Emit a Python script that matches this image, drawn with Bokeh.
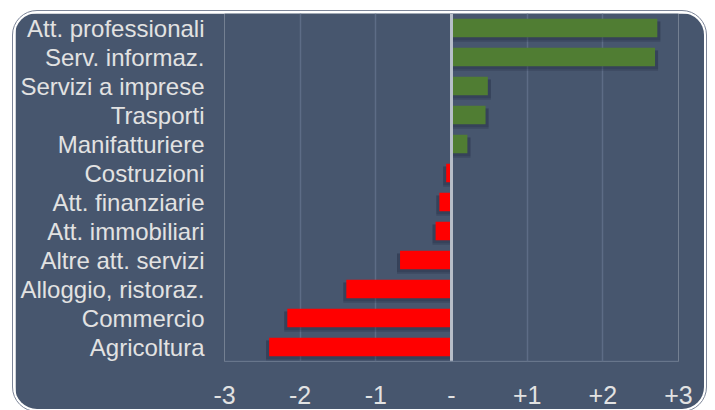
from bokeh.plotting import figure
from bokeh.models import (FactorRange, Range1d, FixedTicker, Span, ColumnDataSource,
                          GlobalInlineStyleSheet)
from bokeh.transform import dodge
from bokeh.embed import file_html
from bokeh.resources import INLINE

categories = ["Att. professionali", "Serv. informaz.", "Servizi a imprese", "Trasporti",
              "Manifatturiere", "Costruzioni", "Att. finanziarie", "Att. immobiliari",
              "Altre att. servizi", "Alloggio, ristoraz.", "Commercio", "Agricoltura"]
values = [2.72, 2.69, 0.48, 0.45, 0.21, -0.07, -0.16, -0.21, -0.68, -1.39, -2.17, -2.41]
tick_values = [-3, -2, -1, 0, 1, 2, 3]
tick_labels = ["-3", "-2", "-1", "-", "+1", "+2", "+3"]

BG = "#47566e"
GREEN = "#507d33"
RED = "#ff0000"
TXT = "#e2e2e2"

colors = [GREEN if v >= 0 else RED for v in values]
sh = 0.04
shadow_left = [min(v, 0) - sh if v < 0 else 0 for v in values]
shadow_right = [v + sh if v > 0 else 0 for v in values]

src = ColumnDataSource(dict(cat=categories, val=values, color=colors,
                            sl=shadow_left, sr=shadow_right))

p = figure(width=693, height=400,
           y_range=FactorRange(*list(reversed(categories))),
           x_range=Range1d(-3, 3),
           output_backend="svg", toolbar_location=None,
           min_border_left=209, min_border_right=30,
           min_border_top=0, min_border_bottom=52)

p.background_fill_color = BG
p.border_fill_color = BG
p.outline_line_color = None

p.styles = {"margin-left": "13px", "margin-top": "11px",
            "border": "2px solid white", "border-radius": "24px",
            "overflow": "hidden", "outline": "1px solid #7c8598"}
p.stylesheets = [GlobalInlineStyleSheet(css="html, body { overflow: hidden; }")]

# shadows
p.hbar(y=dodge("cat", -0.13, range=p.y_range), left="sl", right="sr", height=0.7,
       source=src, fill_color="#10182a", fill_alpha=0.14, line_color=None)
p.hbar(y=dodge("cat", -0.10, range=p.y_range), left="sl", right="sr", height=0.64,
       source=src, fill_color="#10182a", fill_alpha=0.18, line_color=None)
# bars
p.hbar(y="cat", left=0, right="val", height=0.64, source=src,
       fill_color="color", line_color=None)

zero = Span(location=0, dimension="height", line_color="#b7bec9", line_width=3)
p.add_layout(zero)
bottom = Span(location=0, dimension="width", line_color="#5d6c86", line_width=1.5)
p.add_layout(bottom)

p.xgrid.ticker = FixedTicker(ticks=tick_values)
p.xgrid.grid_line_color = "#5d6c86"
p.xgrid.grid_line_width = 1.5
p.ygrid.grid_line_color = None

xa = p.xaxis[0]
xa.ticker = FixedTicker(ticks=tick_values)
xa.major_label_overrides = {t: l for t, l in zip(tick_values, tick_labels)}
xa.axis_line_color = None
xa.major_tick_line_color = None
xa.minor_tick_line_color = None
xa.major_tick_out = 0
xa.major_tick_in = 0
xa.major_label_text_font = "Liberation Sans"
xa.major_label_text_font_size = "25px"
xa.major_label_text_color = TXT
xa.major_label_standoff = 24

ya = p.yaxis[0]
ya.axis_line_color = None
ya.major_tick_line_color = None
ya.minor_tick_line_color = None
ya.major_tick_out = 0
ya.major_tick_in = 0
ya.major_label_text_font = "Liberation Sans"
ya.major_label_text_font_size = "24px"
ya.major_label_text_color = TXT
ya.major_label_standoff = 20

open("out.html", "w").write(file_html(p, INLINE))
